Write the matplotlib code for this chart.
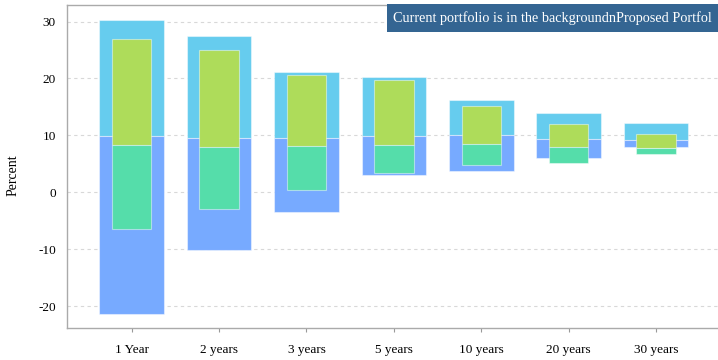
import matplotlib
matplotlib.use("Agg")
import matplotlib.pyplot as plt
from matplotlib.patches import Rectangle
import numpy as np

categories = ["1 Year", "2 years", "3 years", "5 years", "10 years", "20 years", "30 years"]

# Current portfolio (background): high / median / low returns
current_high = [30.3, 27.4, 21.1, 20.2, 16.2, 14.0, 12.1]
current_mid = [9.9, 9.5, 9.6, 9.8, 10.1, 9.3, 9.1]
current_low = [-21.3, -10.2, -3.4, 3.0, 3.8, 6.1, 8.0]

# Proposed portfolio (foreground): high / median / low returns
proposed_high = [27.0, 25.0, 20.6, 19.8, 15.2, 12.0, 10.3]
proposed_mid = [8.3, 8.0, 8.2, 8.3, 8.5, 8.0, 7.7]
proposed_low = [-6.5, -3.0, 0.4, 3.3, 4.8, 5.1, 6.7]

yticks = [-20, -10, 0, 10, 20, 30]
banner_text = "Current portfolio is in the backgroundnProposed Portfol"

plt.rcParams["axes.unicode_minus"] = False
plt.rcParams["font.family"] = ["Liberation Serif", "DejaVu Serif"]

W, H = 718, 360
fig = plt.figure(figsize=(W / 100, H / 100), dpi=100)
ax = fig.add_axes([67 / W, 31.7 / H, 653.8 / W, 323.3 / H])

x = np.arange(len(categories))
hi_c, mid_c, lo_c = map(np.array, (current_high, current_mid, current_low))
hi_p, mid_p, lo_p = map(np.array, (proposed_high, proposed_mid, proposed_low))

edge = dict(edgecolor=(1, 1, 1, 0.45), linewidth=0.8)
ax.bar(x, hi_c - mid_c, bottom=mid_c, width=0.74, color="#66CCEE", zorder=2, **edge)
ax.bar(x, mid_c - lo_c, bottom=lo_c, width=0.74, color="#77AAFF", zorder=2, **edge)
ax.bar(x, hi_p - mid_p, bottom=mid_p, width=0.45, color="#AEDC5A", zorder=3, **edge)
ax.bar(x, mid_p - lo_p, bottom=lo_p, width=0.45, color="#55DDAA", zorder=3, **edge)

ax.set_xlim(-0.74, len(categories) - 1 + 0.74)
ax.set_ylim(-23.9, 32.9)
ax.set_xticks(x)
ax.set_xticklabels(categories, fontsize=9.5)
ax.set_yticks(yticks)
ax.set_yticklabels([str(v) for v in yticks], fontsize=9.5)
ax.tick_params(axis="y", length=0, pad=8)
ax.tick_params(axis="x", length=3, color="#999999", pad=8)
ax.set_ylabel("Percent", fontsize=10)
ax.yaxis.set_label_coords(-0.072, 0.475)

ax.grid(axis="y", linestyle=(0, (3, 3)), color="#d8d8d8", linewidth=0.8, zorder=0)
for side in ("left", "bottom", "top", "right"):
    ax.spines[side].set_color("#aaaaaa")
    ax.spines[side].set_linewidth(1.0)

# Title banner in the top-right corner
fig.patches.append(Rectangle((387 / W, 328 / H), 1 - 387 / W, 28 / H,
                             transform=fig.transFigure, facecolor="#346592",
                             edgecolor="none", zorder=5))
banner = fig.text(393 / W, 341.5 / H, banner_text, color="white", fontsize=10,
                  va="center", ha="left", zorder=6)
# fit the banner text to the space left of the figure edge
renderer = fig.canvas.get_renderer()
width_px = banner.get_window_extent(renderer).width
banner.set_fontsize(10 * (W - 397) / width_px)

fig.savefig("out.png", dpi=100)
